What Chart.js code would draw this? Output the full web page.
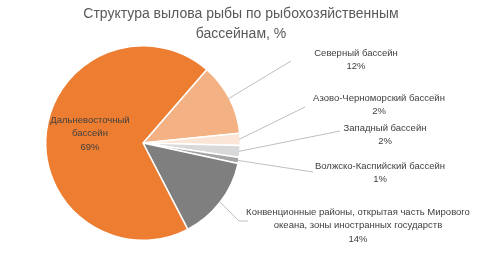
<!DOCTYPE html>
<html>
<head>
<meta charset="utf-8">
<script src="https://cdn.jsdelivr.net/npm/chart.js@4"></script>
<style>
  html, body { margin: 0; padding: 0; background: #fff; }
  #wrap { width: 482px; height: 256px; }
</style>
</head>
<body>
<div id="wrap"><canvas id="pie_chart" width="482" height="256"></canvas></div>
<script>
// data (order clockwise starting just after the big slice)
const basins = [
    ['Северный бассейн'],
    ['Азово-Черноморский бассейн'],
    ['Западный бассейн'],
    ['Волжско-Каспийский бассейн'],
    ['Конвенционные районы, открытая часть Мирового', 'океана, зоны иностранных государств'],
    ['Дальневосточный', 'бассейн']
];
const shares = [12, 2, 2, 1, 14, 69];
const titleLines = ['Структура вылова рыбы по рыбохозяйственным', 'бассейнам, %'];

const sliceColors = ['#F4B183', '#FBE5D6', '#D9D9D9', '#A5A5A5', '#7F7F7F', '#ED7D31'];

// where each label sits: text centre x, first line y, leader end (null = inside)
const labelSpots = [
    { x: 356, y: 53, end: [[291, 61]] },
    { x: 379, y: 98, end: [[305, 107]] },
    { x: 385, y: 128, end: [[340, 131]] },
    { x: 380, y: 166, end: [[313, 172]] },
    { x: 358, y: 212, end: [[239, 221], [248, 221]] },
    { x: 90, y: 120, end: null }
];

const labelPlugin = {
    id: 'outLabels',
    afterDraw(chart) {
        const ctx = chart.ctx;
        ctx.save();
        // title
        ctx.fillStyle = '#595959';
        ctx.font = "14px 'Liberation Sans', Arial, sans-serif";
        ctx.textAlign = 'center';
        ctx.textBaseline = 'middle';
        titleLines.forEach((t, i) => ctx.fillText(t, 241, 14 + i * 20));

        const meta = chart.getDatasetMeta(0);
        meta.data.forEach((arc, i) => {
            const spot = labelSpots[i];
            if (spot.end) {
                const mid = (arc.startAngle + arc.endAngle) / 2;
                const r = arc.outerRadius - 1;
                ctx.strokeStyle = '#BFBFBF';
                ctx.lineWidth = 1;
                ctx.beginPath();
                ctx.moveTo(arc.x + Math.cos(mid) * r, arc.y + Math.sin(mid) * r);
                spot.end.forEach(p => ctx.lineTo(p[0], p[1]));
                ctx.stroke();
            }
            const lines = basins[i].concat([shares[i] + '%']);
            ctx.fillStyle = '#404040';
            ctx.font = "9.5px 'Liberation Sans', Arial, sans-serif";
            lines.forEach((t, k) => ctx.fillText(t, spot.x, spot.y + k * 13.5));
        });
        ctx.restore();
    }
};

const ctx = document.getElementById('pie_chart').getContext('2d');
const pie_chart = new Chart(ctx, {
    type: 'pie',
    data: {
        labels: basins.map(b => b.join(' ')),
        datasets: [{
            data: shares,
            backgroundColor: sliceColors,
            borderColor: '#FFFFFF',
            borderWidth: 1.5,
            hoverOffset: 0
        }]
    },
    options: {
        responsive: false,
        animation: false,
        rotation: 41, // first slice starts a bit past 12 o'clock
        layout: {
            padding: { left: 45, right: 241, top: 45, bottom: 15 }
        },
        plugins: {
            legend: { display: false },
            tooltip: { enabled: false },
            title: { display: false }
        }
    },
    plugins: [labelPlugin]
});
</script>
</body>
</html>
